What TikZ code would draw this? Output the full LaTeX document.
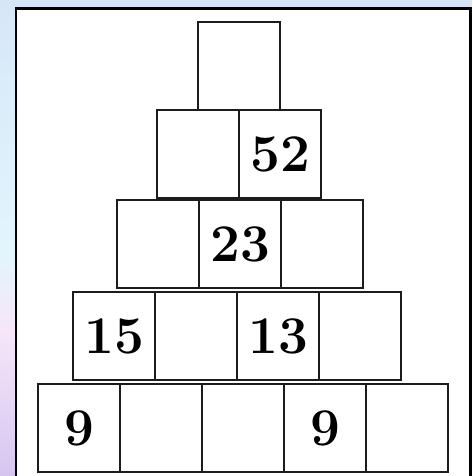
\documentclass[tikz,border=0pt]{standalone}
\usepackage{tikz}
\usetikzlibrary{positioning}
\definecolor{skyblue}{RGB}{214,230,248}
\definecolor{paleaqua}{RGB}{226,245,253}
\definecolor{palepink}{RGB}{246,230,250}
\definecolor{lilac}{RGB}{212,198,240}
\definecolor{celledge}{RGB}{28,28,28}

\begin{document}
\begin{tikzpicture}[x=1pt, y=-1pt,
  cell/.style={draw=celledge, line width=2.4pt, minimum width=82pt,
    minimum height=88pt, inner sep=0pt,
    font=\fontsize{53}{53}\selectfont\bfseries}]
  \useasboundingbox (0,0) rectangle (472,476);
  % Backdrop
  \fill[skyblue] (0,0) rectangle (472,476);
  \shade[top color=skyblue, bottom color=paleaqua] (0,0) rectangle (16,250);
  \shade[top color=paleaqua, bottom color=palepink] (0,250) rectangle (16,330);
  \shade[top color=palepink, bottom color=lilac] (0,330) rectangle (16,476);
  % White sheet
  \draw[black, line width=2.8pt, fill=white] (16,8.5) rectangle (470.5,490);
  % Row 1 (top)
  \node[cell] (b10) at (239,66) {};
  % Row 2
  \foreach \i/\t in {0/{},1/52}
    \node[cell] (b2\i) at (198+82*\i,154) {\t};
  % Row 3
  \foreach \i/\t in {0/{},1/23,2/{}}
    \node[cell] (b3\i) at (158+82*\i,244) {\t};
  % Row 4
  \foreach \i/\t in {0/15,1/{},2/13,3/{}}
    \node[cell] (b4\i) at (114+82*\i,336) {\t};
  % Row 5 (base)
  \foreach \i/\t in {0/9,1/{},2/{},3/9,4/{}}
    \node[cell] (b5\i) at (79+82*\i,428) {\t};
\end{tikzpicture}
\end{document}
